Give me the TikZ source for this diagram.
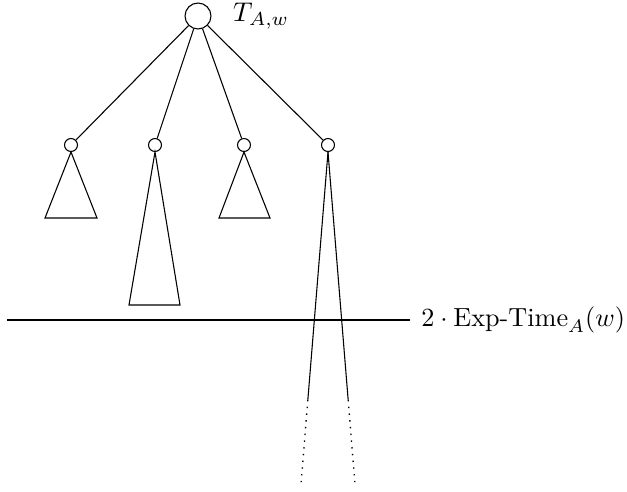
\documentclass[tikz,border=0pt]{standalone}
\usepackage{amsmath}
\usepackage{tikz}
\usetikzlibrary{positioning, calc}

\begin{document}
\begin{tikzpicture}[x=0.37pt, y=-0.37pt,
            vtx/.style={draw, circle, inner sep=0pt, minimum size=4.8pt},
            rootvtx/.style={draw, circle, inner sep=0pt, minimum size=9.6pt}]
            \useasboundingbox (0,0) rectangle (627,491);

            \node[rootvtx] (root) at (198,16) {};
            \node[right=4.5pt of root] (lbl) {$T_{A,w}$};

            \node[vtx] (c1) at (71,145) {};
            \node[vtx] (c2) at (155,145) {};
            \node[vtx] (c3) at (244,145) {};
            \node[vtx] (c4) at (328,145) {};

            \foreach \c in {c1,c2,c3,c4}
                \draw (root) -- (\c);

            % subtrees
            \coordinate (b1l) at (45,218);  \coordinate (b1r) at (97,218);
            \coordinate (b2l) at (129,305); \coordinate (b2r) at (180,305);
            \coordinate (b3l) at (219,218); \coordinate (b3r) at (270,218);
            \draw (c1.south) -- (b1l) -- (b1r) -- cycle;
            \draw (c2.south) -- (b2l) -- (b2r) -- cycle;
            \draw (c3.south) -- (b3l) -- (b3r) -- cycle;

            % the deep subtree
            \coordinate (e4l) at (301,484);
            \coordinate (e4r) at (355,484);
            \coordinate (m4l) at ($(c4.south)!0.747!(e4l)$);
            \coordinate (m4r) at ($(c4.south)!0.747!(e4r)$);
            \draw (c4.south) -- (m4l);
            \draw (c4.south) -- (m4r);
            \draw[dotted, line width=0.5pt] (m4l) -- (e4l);
            \draw[dotted, line width=0.5pt] (m4r) -- (e4r);

            % cut-off level
            \coordinate (hl) at (7,320);
            \coordinate (hr) at (410,320);
            \draw (hl) -- (hr);
            \node[right=0.8pt of hr, scale=0.97] (lvl) {$2\cdot\text{Exp-Time}_A(w)$};
        \end{tikzpicture}
\end{document}
